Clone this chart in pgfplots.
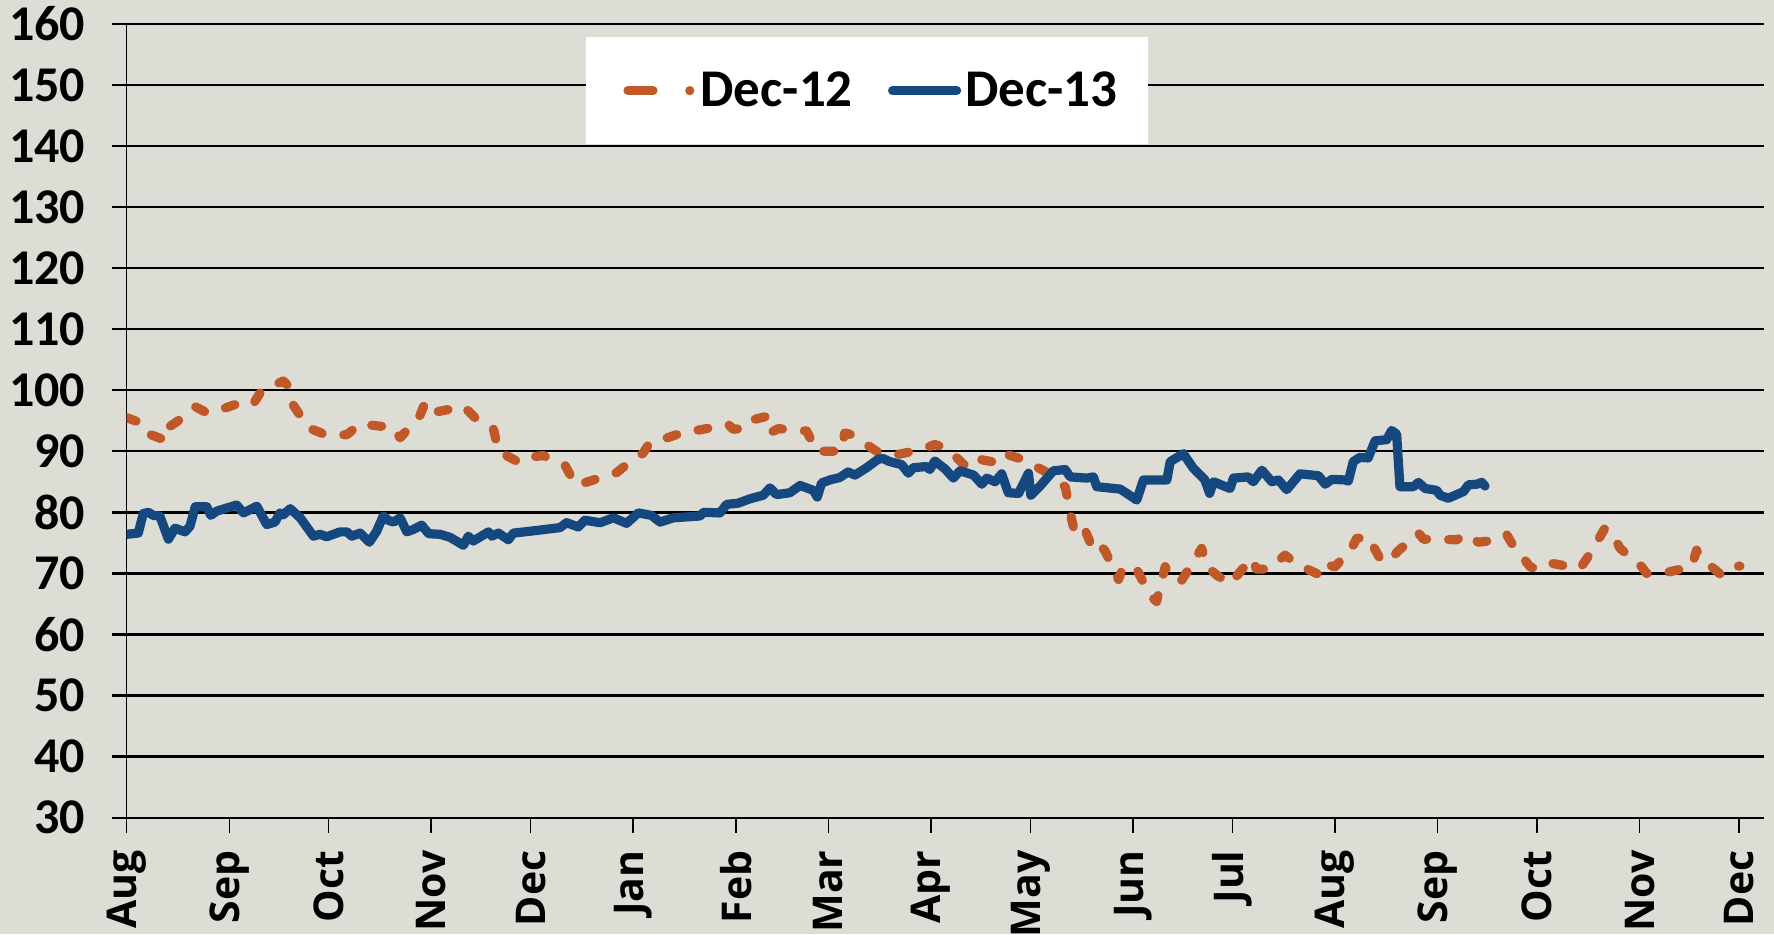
\documentclass[border=0pt]{standalone}
\usepackage{fontspec}
\setmainfont{Carlito}
\newfontfamily\osans{Open Sans}
\usepackage{pgfplots}
\pgfplotsset{compat=1.18}
\definecolor{bgc}{RGB}{221,221,213}
\definecolor{dorange}{RGB}{193,88,40}
\definecolor{dblue}{RGB}{22,72,128}

\pgfplotstableread{
d v
0 76.4
3.5 76.6
5 79.8
6.6 80.0
8 79.5
10 79.4
12.6 75.6
14.6 77.4
17.6 76.8
19.1 77.7
20.7 80.9
24.2 80.9
25.4 79.5
27.2 80.2
33.2 81.2
35.3 79.9
39.3 81.0
42.3 78.0
44.8 78.4
46.3 79.9
47.3 79.6
49.4 80.6
52.4 79.1
56.4 76.1
58.4 76.4
60.4 76.0
64.5 76.8
66.5 76.8
68 76.1
70.5 76.6
73.3 75.1
75.5 76.9
77.5 79.4
79 78.7
80.6 78.4
82.6 79.1
84.6 76.8
86.6 77.2
89.1 77.9
91.2 76.5
94.7 76.4
97.7 75.9
101.7 74.6
103.2 76.1
104.7 75.3
109.3 76.8
110.3 76.1
112.3 76.6
115.3 75.5
116.8 76.6
121.8 76.9
130.9 77.5
132.9 78.3
136.4 77.6
138.4 78.7
143 78.3
147 79.1
151 78.2
154.5 79.9
158.5 79.5
161.1 78.4
165.1 79.1
173.2 79.4
174.2 80.0
179.2 79.9
181.2 81.3
184.7 81.5
188.2 82.2
192.3 82.8
194.3 84.0
196.3 82.9
200.3 83.2
203.4 84.4
207.4 83.6
208.6 82.5
209.9 84.8
212.4 85.3
215.4 85.7
217.9 86.6
220 86.1
223.5 87.3
227 88.7
228.5 88.8
230.5 88.3
234.1 87.8
236.1 86.4
237.6 87.3
241.6 87.5
242.6 87.0
244.1 88.4
247.2 87.1
249.7 85.6
251.7 86.8
255.8 86.1
258.3 84.6
259.8 85.6
262.3 85.0
264.3 86.3
266.3 83.2
269.4 83.1
272.4 86.4
273.1 82.8
275.9 84.3
279.9 86.8
283.5 87.0
285 85.8
290 85.6
292 85.8
293 84.2
300.1 83.8
302.1 83.1
305.1 82.0
307.1 85.3
312.1 85.3
314.2 85.3
315.2 88.3
319.2 89.6
322.2 87.2
325.7 85.3
327.1 83.1
328.3 85.0
333.3 83.9
334.3 85.6
338.8 85.8
340.3 85.0
342.9 86.9
345.9 85.0
347.9 85.3
350.4 83.7
354.4 86.3
360 86.0
362 84.6
364 85.4
368 85.3
369 85.1
370.5 88.3
372.5 89.0
375 88.9
377.1 91.7
380.6 91.9
382.1 93.4
383.6 92.8
384.6 84.2
388.7 84.2
390.2 84.9
392.2 83.9
395.7 83.6
396.7 82.8
399.2 82.3
403.8 83.4
405.3 84.5
407.8 84.6
409.3 84.9
410.3 84.3
}\decthirteen

\pgfplotstableread{
d v
0 95.5
3 94.9
4.5 93.3
12.1 91.7
13.1 94.1
15.1 94.8
20.7 97.3
24.2 96.3
25.7 96.7
28.2 96.8
35.8 98.2
38.3 97.8
40.8 100
47.3 101.5
48.8 100.7
49.9 97.9
54.9 93.8
57.4 93.3
60.4 92.6
66.5 92.7
68.5 93.6
70.5 94.5
76.5 94.1
80 94.1
82.6 92.2
88.6 95.9
90.1 97.9
92.2 96.3
99.7 97.1
101.7 97.4
105.2 95.5
110.8 93.6
112.3 90.0
118.8 88.1
122.9 89.1
125.8 89.3
132.4 87.7
133.9 86.2
136.4 85.8
136.9 84.6
143.9 85.8
148 86.5
150.5 87.6
156 89.7
158 91.4
160.6 91.7
167.6 93.0
169.1 93.3
173.2 93.5
181.7 94.4
183.2 93.6
185.7 93.7
187.2 94.9
193.3 95.7
194.3 93.0
196.8 93.7
205.4 93.3
208.4 90.0
215.9 90.0
216.9 93.0
219 92.7
226.5 90.0
231.5 89.3
240.1 90.3
244.1 91.1
247.7 90.5
252.7 87.9
255.8 87.2
258.3 88.6
264.3 88.0
266.3 89.4
270.4 88.7
277.4 86.7
280.4 85.0
283.5 84.2
285.5 78.7
286.5 76.3
289.5 77.1
291.5 74.4
293 75.2
295.5 73.7
299.6 69.0
300.6 70.5
304.6 71.2
309.1 66.4
311.1 65.4
312.1 67.8
313.7 71.1
315.2 69.2
318.7 68.9
324.7 74.1
326.3 71.1
329.3 69.7
333.3 68.3
339.8 72.5
341.3 70.7
344.9 70.7
349.9 73.0
353.4 71.5
361 69.6
362.5 71.4
365 71.1
370 74.1
371.5 75.7
375 76.0
379.1 71.9
382.1 72.5
384.1 73.7
390.2 76.6
391.7 75.6
395.2 75.6
401.7 75.5
404.8 76.4
408.3 75.1
412.8 75.4
416.8 76.4
418.4 74.9
423.9 71.1
425.9 70.7
429.9 71.7
439 70.8
442.5 73.6
446.5 77.4
448.6 76.6
451.1 74.1
457.6 71.1
459.1 70.0
464.7 70.1
472.7 71.1
474.2 73.8
475.2 72.7
481.3 69.9
483.3 71.1
487.3 71.2
}\dectwelve

\begin{document}
\begin{tikzpicture}
\fill[bgc] (-63.35pt,-58.15pt) rectangle (823.65pt,408.85pt);
\begin{axis}[
  at={(0pt,0pt)}, anchor=south west,
  scale only axis, width=818.7pt, height=397pt,
  xmin=0, xmax=494.6, ymin=30, ymax=160,
  axis lines*=left,
  axis line style={black, line width=0.8pt},
  xtick={0,31,61,92,122,153,184,212,243,273,304,334,365,396,426,457,487},
  xticklabels={Aug,Sep,Oct,Nov,Dec,Jan,Feb,Mar,Apr,May,Jun,Jul,Aug,Sep,Oct,Nov,Dec},
  ytick={30,40,...,160},
  tick align=outside,
  major tick length=7.5pt,
  xtick style={black, line width=0.8pt},
  ytick style={black, line width=1.2pt},
  ymajorgrids,
  major grid style={black, line width=1.2pt},
  /pgf/number format/assume math mode=true,
  yticklabel style={font=\bfseries\fontsize{25}{25}\selectfont, anchor=east, inner sep=0pt, xshift=-13pt},
  xticklabel style={font=\osans\bfseries\fontsize{20.5}{20.5}\selectfont, yshift=-8.7pt, rotate=90, anchor=east, inner sep=0pt},
  legend columns=-1,
  legend style={at={(rel axis cs:0.2805,0.9833)}, anchor=north west, draw=none, fill=white,
    inner xsep=13.3pt, inner ysep=17.2pt,
    font=\bfseries\fontsize{26.5}{26.5}\selectfont,
    nodes={inner xsep=2pt, inner ysep=0pt},
    /tikz/every even column/.append style={column sep=10.4pt}},
]
\addplot[dorange, line width=4.6pt, line cap=round, line join=round,
  dash pattern=on 5pt off 11pt,
  legend image code/.code={\path (-5.2pt,0pt); \draw[dorange, line width=4.6pt, line cap=round, dash pattern=on 12.5pt off 18.4pt on 0pt off 20pt] (0pt,0pt) -- (32pt,0pt);}]
  table[x=d, y=v] {\dectwelve};
\addlegendentry{Dec-12}
\addplot[dblue, line width=4.6pt, line cap=round, line join=round,
  legend image code/.code={\path (-5.2pt,0pt); \draw[dblue, line width=4.6pt, line cap=round] (0pt,0pt) -- (32pt,0pt);}]
  table[x=d, y=v] {\decthirteen};
\addlegendentry{Dec-13}
\end{axis}
\pgfresetboundingbox
\path[use as bounding box] (-63.35pt,-58.15pt) rectangle (823.65pt,408.85pt);
\end{tikzpicture}
\end{document}
